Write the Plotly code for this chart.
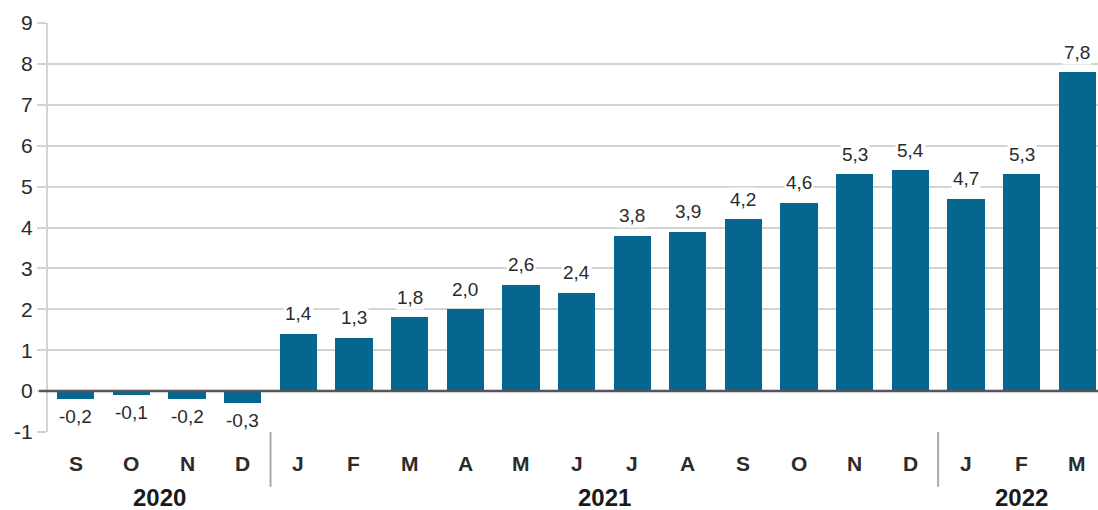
import plotly.graph_objects as go

months = ["S", "O", "N", "D", "J", "F", "M", "A", "M", "J", "J", "A", "S", "O", "N", "D", "J", "F", "M"]
values = [-0.2, -0.1, -0.2, -0.3, 1.4, 1.3, 1.8, 2.0, 2.6, 2.4, 3.8, 3.9, 4.2, 4.6, 5.3, 5.4, 4.7, 5.3, 7.8]
years = ["2020", "2021", "2022"]
year_spans = [(0, 3), (4, 15), (16, 18)]
y_ticks = [-1, 0, 1, 2, 3, 4, 5, 6, 7, 8, 9]

BAR = "#05668f"
GRID = "#d3d3d3"
TEXT = "#2b2b2b"
FONT = "Liberation Sans, Arial, sans-serif"

x = list(range(len(values)))

fig = go.Figure(go.Bar(x=x, y=values, marker_color=BAR, marker_line_width=0, width=0.67))

annotations = []
for xi, v in zip(x, values):
    label = f"{v:.1f}".replace(".", ",")
    annotations.append(dict(
        x=xi, y=v, xref="x", yref="y", text=label, showarrow=False,
        yanchor="middle", yshift=20 if v >= 0 else -17, bgcolor="white", borderpad=1,
        font=dict(family=FONT, size=19, color=TEXT),
    ))
for xi, m in zip(x, months):
    annotations.append(dict(
        x=xi, y=-0.076, xref="x", yref="paper", text=f"<b>{m}</b>", showarrow=False,
        yanchor="middle", font=dict(family=FONT, size=21, color=TEXT),
    ))
for name, (a, b) in zip(years, year_spans):
    annotations.append(dict(
        x=(a + b) / 2, y=-0.159, xref="x", yref="paper", text=f"<b>{name}</b>", showarrow=False,
        yanchor="middle", font=dict(family=FONT, size=24, color="#1a1a1a"),
    ))

shapes = []
for a, b in year_spans[1:]:
    shapes.append(dict(type="line", xref="x", yref="paper", x0=a - 0.5, x1=a - 0.5,
                       y0=0, y1=-0.134, line=dict(color="#aaaaaa", width=2)))
# zero baseline, running out through the tick area
shapes.append(dict(type="line", xref="paper", yref="y", x0=-9 / 1050, x1=1, y0=0, y1=0,
                   line=dict(color="#555555", width=2.5)))

fig.update_layout(
    width=1098, height=510,
    margin=dict(l=48, r=0, t=23, b=78),
    plot_bgcolor="white", paper_bgcolor="white",
    showlegend=False, bargap=0,
    annotations=annotations, shapes=shapes,
    xaxis=dict(range=[-0.5, 18.374], showticklabels=False, showgrid=False, zeroline=False,
               fixedrange=True),
    yaxis=dict(range=[-1, 9], tickvals=y_ticks, ticktext=[str(t) for t in y_ticks],
               showgrid=True, gridcolor=GRID, gridwidth=2,
               zeroline=False, showline=True, linecolor=GRID, linewidth=2,
               ticks="outside", ticklen=9, tickcolor=GRID, tickwidth=2,
               tickfont=dict(family=FONT, size=21, color=TEXT)),
)

fig.write_html("out.html")
